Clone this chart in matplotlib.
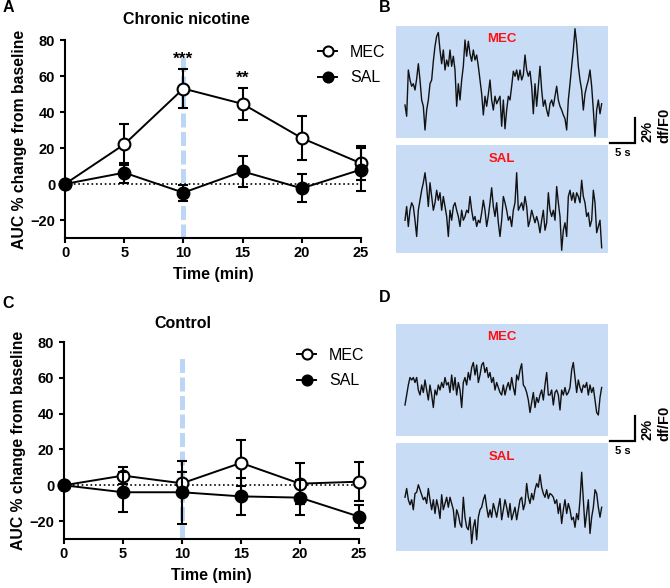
import numpy as np
import matplotlib
matplotlib.use("Agg")
import matplotlib.pyplot as plt
from matplotlib.patches import Rectangle

plt.rcParams['font.family'] = ['Liberation Sans', 'DejaVu Sans']

# time course data (AUC % change from baseline, mean and SEM)
time_min = [0, 5, 10, 15, 20, 25]
chronic_mec = [0, 22, 53, 44.5, 25.5, 11.5]
chronic_mec_sem = [0, 11.5, 10.8, 9, 12.2, 9.5]
chronic_sal = [0, 6.3, -4.8, 7, -2.4, 8]
chronic_sal_sem = [0, 5.5, 4.5, 8.5, 7.7, 12]
control_mec = [0, 5.4, 1.1, 12.5, 0.9, 2]
control_mec_sem = [0, 4.7, 6.2, 12.7, 11.5, 10.8]
control_sal = [0, -3.9, -3.9, -6.2, -6.9, -17.5]
control_sal_sem = [0, 11.2, 17.6, 10.2, 9.6, 6.6]
chronic_stars = {10: '***', 15: '**'}

# example df/F0 traces (%), sampled every 1/3 s
trace_dt = 1 / 3
chronic_mec_trace = [
    -1.6, -2.5, 1.2, 0.4, -0.1, 0.1, -0.4, 0.5, 1.7, 0.4, -1.2, -1.7, -3.6, -2.0, -1.2,
    0.1, 0.4, 1.9, 3.1, 3.9, 4.2, 2.8, 1.7, 2.8, 1.2, 2.0, 1.5, 2.8, 1.5, 2.3, 1.2,
    -1.7, 0.1, -1.2, 0.4, 1.5, 3.6, 2.3, 3.5, 2.5, 1.9, 2.8, 2.0, 2.4, 1.5, 0.4, -0.7,
    -2.4, -0.9, -1.7, -0.7, 0.4, -1.2, -2.0, -0.9, -1.5, -1.2, -0.9, -3.3, -1.2, -3.5,
    -2.0, -0.9, -1.2, -0.1, 1.1, 0.7, 1.2, 0.4, 1.2, 0.4, 0.8, 2.4, 1.2, 0.7, 1.1, -0.1,
    -2.3, 0.1, -1.7, -0.1, 1.5, -0.4, -1.7, -1.2, -2.0, -2.5, -1.5, -1.2, -1.7, -0.9,
    -0.1, -1.2, -1.7, -2.0, -2.4, -2.7, -3.6, -1.2, 0.1, 1.5, 2.8, 4.5, 3.3, 1.5, 0.4,
    -0.4, -2.0, -0.7, -0.1, 0.4, 1.2, -0.1, -2.0, -4.1, -2.0, -1.2, -2.3, -1.5]
chronic_sal_trace = [
    -1.7, -0.6, -2.2, -0.9, -0.3, -0.6, -1.7, -3.0, -0.9, -0.1, 0.7, 1.3, 2.1, 1.0, -0.6,
    1.3, 0.2, -0.9, -0.3, 0.7, -0.1, 0.5, -0.9, 0.2, -0.6, -1.4, -3.0, -0.9, -1.7, -0.6,
    -0.3, -0.9, -1.4, -2.2, -0.9, -1.7, -1.4, -0.9, -1.1, 0.2, -0.9, -1.7, -1.4, -2.2,
    -1.7, -1.9, -1.1, -0.1, -0.9, -2.2, -1.4, -0.3, 0.9, -0.6, -1.4, -0.3, -1.9, -3.0,
    -1.7, 0.2, -0.3, -0.9, -1.7, -1.4, -2.2, -0.9, -0.3, 2.1, -0.9, -0.6, -0.3, -0.9, 0.2,
    -0.6, -2.2, -1.7, -0.9, -1.4, -1.9, -1.4, -1.9, -2.7, -1.7, -0.9, -2.5, -1.9, 0.5,
    -0.9, -1.4, -0.9, -1.7, 1.0, -0.3, -1.4, -4.1, -2.5, -1.9, -3.0, 0.2, 0.7, -0.1, 0.5,
    -0.3, 0.5, 0.2, -0.3, 1.5, 0.2, -0.3, -1.4, -1.1, -2.2, -1.7, 0.7, -0.3, -2.7, -2.2,
    -1.7, -3.9]
control_mec_trace = [
    -2.0, -1.2, -0.4, 0.2, 0.0, 0.2, -0.2, 0.2, -0.8, -1.2, -0.4, -1.0, 0.0, -0.8, -1.6,
    -0.4, -1.2, -2.2, -0.8, -1.2, -0.4, -0.8, -0.2, -0.6, 0.2, -0.4, -0.2, -1.0, 0.4, -0.8,
    0.2, -1.2, -0.2, -0.8, -2.2, -0.2, 0.2, -0.4, 0.6, 0.0, 1.0, 1.4, 0.4, 1.2, -0.2, 0.4,
    1.2, 1.4, 0.6, 1.0, 0.2, 0.6, -0.2, 0.2, -0.8, -0.2, -0.6, -1.0, -1.2, -0.4, -1.2,
    -0.6, -0.2, -0.8, 0.2, -0.6, -1.2, 0.4, 0.0, 0.8, 1.3, -0.4, -0.6, -1.0, -1.6, -2.6,
    -1.8, -1.0, -2.2, -1.4, -1.8, -1.2, -0.8, -1.6, -0.4, 0.6, -1.2, -1.2, -0.8, -2.0,
    -1.0, -0.8, -1.2, -2.4, -0.8, -1.2, -0.6, -1.2, -1.0, -0.6, 0.8, 1.4, 0.2, -1.0, 0.0,
    -0.6, -1.0, -0.4, -0.6, -0.2, -1.2, -0.4, -1.0, -0.6, -1.6, -2.6, -2.8, -1.4, -0.6]
control_sal_trace = [
    -0.1, 0.6, -0.3, -0.7, -0.3, -1.1, 0.2, 0.3, 0.9, 0.5, 0.1, -0.3, -0.1, -0.6, 0.6,
    -0.3, -1.1, -0.3, -1.4, -0.3, -0.9, -1.8, 0.1, -1.1, -0.6, -0.1, -0.9, -0.1, -0.6,
    -1.1, -2.5, -1.1, -1.5, -2.2, -2.5, -0.1, -1.7, -2.5, -2.7, -1.7, -3.8, -2.5, -1.9,
    -3.5, -1.7, -1.1, -0.9, -0.3, 0.1, -0.9, -1.7, -1.1, -1.7, -0.6, -1.1, -1.7, -0.9,
    -0.2, -1.9, -1.1, -0.3, -0.9, -1.7, -0.6, -1.9, -1.4, -0.9, -1.9, -1.1, -0.3, -0.1,
    -1.1, -0.6, 1.0, -0.1, -0.6, 0.2, -0.3, 0.5, 1.0, 0.7, 1.7, 0.7, 0.2, -0.1, 0.5, -0.2,
    0.2, 0.1, -0.1, -0.6, -0.3, -1.4, -0.6, -2.2, -1.1, -0.3, -1.4, -0.6, -1.1, -1.9, -1.7,
    -2.5, -1.4, -1.9, -0.3, 1.9, -0.3, -2.5, -1.4, -0.3, -3.0, -1.7, -0.9, 0.5, 0.2, -0.9,
    -1.7, -0.9]

W, H = 670, 588
fig = plt.figure(figsize=(W / 100, H / 100), dpi=100)


def px_axes(x0, y0, x1, y1):
    # axes from pixel box (top-left origin)
    return fig.add_axes([x0 / W, 1 - y1 / H, (x1 - x0) / W, (y1 - y0) / H])


def draw_time_panel(ax, mec, mec_sem, sal, sal_sem, stars, legend_anchor):
    ax.plot([10, 10], [-30, 73], color='#bcd6f5', lw=3.6, ls=(0, (2.8, 0.9)),
            solid_capstyle='butt', zorder=0, clip_on=False)
    ax.plot([0, 25], [0, 0], color='k', ls=':', lw=1.2, zorder=1)
    ax.errorbar(time_min, mec, yerr=mec_sem, fmt='none', ecolor='k', elinewidth=1.5,
                capsize=3.6, capthick=1.5, zorder=2, clip_on=False)
    mec_line, = ax.plot(time_min, mec, '-o', color='k', mfc='white', mec='k', ms=8.5,
                        mew=1.5, lw=1.4, label='MEC', zorder=3, clip_on=False)
    ax.errorbar(time_min, sal, yerr=sal_sem, fmt='none', ecolor='k', elinewidth=1.5,
                capsize=3.6, capthick=1.5, zorder=4, clip_on=False)
    sal_line, = ax.plot(time_min, sal, '-o', color='k', mfc='k', mec='k', ms=8.5,
                        mew=1.5, lw=1.4, label='SAL', zorder=5, clip_on=False)
    for t, s in stars.items():
        i = time_min.index(t)
        ax.text(t, mec[i] + mec_sem[i] + 5.5, s, ha='center', va='center',
                fontsize=12.5, fontweight='bold')

    ax.set_xlim(0, 25)
    ax.set_ylim(-30, 80)
    ax.set_xticks(time_min)
    ax.set_yticks([-20, 0, 20, 40, 60, 80])
    for side in ['top', 'right']:
        ax.spines[side].set_visible(False)
    for side in ['left', 'bottom']:
        ax.spines[side].set_linewidth(1.5)
    ax.tick_params(width=1.5, length=3.6, labelsize=10.5)
    ax.tick_params(axis='x', pad=2)
    for lab in ax.get_xticklabels() + ax.get_yticklabels():
        lab.set_fontweight('bold')
    ax.set_xlabel('Time (min)', fontsize=11.5, fontweight='bold', labelpad=5)
    ax.set_ylabel('AUC % change from baseline', fontsize=11.3, fontweight='bold')
    ax.yaxis.set_label_coords(-0.128, 0.5)
    ax.legend(handles=[mec_line, sal_line], loc='upper left', bbox_to_anchor=legend_anchor,
              frameon=False, fontsize=11.5, handlelength=1.2, handletextpad=0.8,
              labelspacing=0.65, borderpad=0, borderaxespad=0, markerscale=0.85)


def draw_trace_panel(ax, mec_trace, sal_trace, mec_zero, sal_zero, t0):
    # 1 s = 5 px, 1 % = 12.5 px
    ax.set_xlim(0, 54.8)
    ax.set_ylim(0, 18.16)
    ax.axis('off')
    ax.add_patch(Rectangle((0, 9.2), 42.4, 8.96, facecolor='#c8dcf5', edgecolor='none'))
    ax.add_patch(Rectangle((0, 0), 42.4, 8.64, facecolor='#c8dcf5', edgecolor='none'))
    t = t0 + trace_dt * np.arange(len(mec_trace))
    ax.plot(t, np.array(mec_trace) + mec_zero, color='#111111', lw=1.0)
    t = t0 + trace_dt * np.arange(len(sal_trace))
    ax.plot(t, np.array(sal_trace) + sal_zero, color='#111111', lw=1.0)
    ax.text(21.2, 17.1, 'MEC', color='#ff1010', fontsize=9.5, fontweight='bold',
            ha='center', va='center')
    ax.text(21.2, 7.5, 'SAL', color='#ff1010', fontsize=9.5, fontweight='bold',
            ha='center', va='center')
    # scale bar: 5 s and 2 %
    ax.plot([42.8, 47.8, 47.8], [8.8, 8.8, 10.8], color='k', lw=1.6,
            solid_joinstyle='miter', clip_on=False)
    ax.text(45.3, 8.4, '5 s', fontsize=8, fontweight='bold', ha='center', va='top')
    ax.text(50.2, 9.7, '2%', fontsize=10.5, fontweight='bold', rotation=90,
            ha='center', va='center')
    ax.text(53.6, 10.2, 'df/F0', fontsize=10.5, fontweight='bold', rotation=90,
            ha='center', va='center')


ax_a = px_axes(65, 40, 361, 238)
draw_time_panel(ax_a, chronic_mec, chronic_mec_sem, chronic_sal, chronic_sal_sem,
                chronic_stars, (0.855, 0.975))
ax_c = px_axes(64, 342, 359, 539)
draw_time_panel(ax_c, control_mec, control_mec_sem, control_sal, control_sal_sem,
                {}, (0.79, 0.97))

ax_b = px_axes(396, 26, 670, 253)
draw_trace_panel(ax_b, chronic_mec_trace, chronic_sal_trace, 13.44, 4.32, 1.8)
ax_d = px_axes(396, 324, 670, 551)
draw_trace_panel(ax_d, control_mec_trace, control_sal_trace, 13.68, 4.4, 1.8)

fig.text(186 / W, 1 - 19 / H, 'Chronic nicotine', fontsize=11.5, fontweight='bold',
         ha='center', va='center')
fig.text(183 / W, 1 - 323 / H, 'Control', fontsize=11.5, fontweight='bold',
         ha='center', va='center')
for letter, x, y in [('A', 8, 8), ('B', 385, 8), ('C', 8, 304), ('D', 385, 298)]:
    fig.text(x / W, 1 - y / H, letter, fontsize=11.5, fontweight='bold',
             ha='center', va='center')

fig.savefig('out.png', dpi=100)
